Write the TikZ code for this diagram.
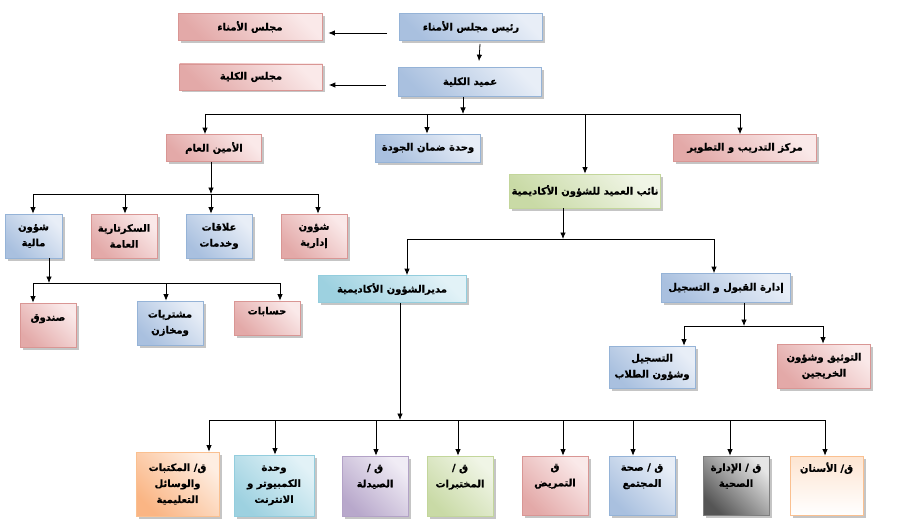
\documentclass[tikz,border=0pt]{standalone}
\usepackage{fontspec}
\usepackage{tikz}
\newfontfamily\arabicfont[Script=Arabic, BoldFeatures={FakeBold=0.8}]{DejaVu Sans}
\TeXXeTstate=1
\usetikzlibrary{shadows}
\usetikzlibrary{arrows.meta}

\definecolor{rojoB}{HTML}{D99694}
\definecolor{rojoO}{HTML}{E3A9A8}
\definecolor{rojoC}{HTML}{FAE9E9}
\definecolor{azulB}{HTML}{95B3D7}
\definecolor{azulO}{HTML}{A9C0DF}
\definecolor{azulC}{HTML}{E8EEF7}
\definecolor{verdeB}{HTML}{C3D69B}
\definecolor{verdeO}{HTML}{C9DAA6}
\definecolor{verdeC}{HTML}{F0F5E6}
\definecolor{cianB}{HTML}{93CDDD}
\definecolor{cianO}{HTML}{9DD1E0}
\definecolor{cianC}{HTML}{E2F2F7}
\definecolor{moradoB}{HTML}{B3A2C7}
\definecolor{moradoO}{HTML}{B8A8CB}
\definecolor{moradoC}{HTML}{F0ECF5}
\definecolor{naranjaB}{HTML}{FAC090}
\definecolor{naranjaO}{HTML}{FAB584}
\definecolor{naranjaC}{HTML}{FEEEE2}
\definecolor{grisB}{HTML}{7F7F7F}
\definecolor{grisO}{HTML}{555555}
\definecolor{grisC}{HTML}{E6E6E6}

\newcommand{\ara}[1]{\beginR #1\endR}

\tikzset{
	caja/.style={draw=#1B, line width=0.7pt, align=center, inner sep=2pt,
		font=\arabicfont\bfseries\fontsize{10}{16}\selectfont,
		left color=#1O, right color=#1C, shading angle=135,
		drop shadow={shadow xshift=2.5pt, shadow yshift=-2.5pt, fill=black!45, opacity=.5}},
	flecha/.style={-{Latex[length=6.5pt,width=5.5pt]}, line width=0.8pt},
	bus/.style={line width=0.8pt}
}

\begin{document}
\begin{tikzpicture}[x=1pt,y=-1pt]
	\useasboundingbox (0,0) rectangle (920,524);

% consejos
	\node[caja=rojo, minimum width=144pt, minimum height=27pt] (patro) at (250,27) {\ara{مجلس الأمناء}};
	\node[caja=azul, minimum width=143pt, minimum height=27pt] (presi) at (471,27) {\ara{رئيس مجلس الأمناء}};
	\node[caja=rojo, minimum width=143pt, minimum height=26pt] (consejo) at (251,77) {\ara{مجلس الكلية}};
	\node[caja=azul, minimum width=143pt, minimum height=29pt] (decano) at (470,82) {\ara{عميد الكلية}};
	\draw[flecha] ([xshift=-12pt,yshift=-6pt]presi.west) -- ([xshift=6pt,yshift=-6pt]patro.east);
	\draw[flecha] ([xshift=-12pt,yshift=-3pt]decano.west) -- ([xshift=6pt,yshift=-8pt]consejo.east);
	\draw[flecha] ([xshift=9pt,yshift=-3pt]presi.south) -- ([xshift=9pt,yshift=6pt]decano.north);

% decanato
	\node[caja=rojo, minimum width=95pt, minimum height=27pt] (amin) at (214,148) {\ara{الأمين العام}};
	\node[caja=azul, minimum width=105pt, minimum height=28pt] (calidad) at (428,148) {\ara{وحدة ضمان الجودة}};
	\node[caja=rojo, minimum width=143pt, minimum height=27pt] (centro) at (745,148) {\ara{مركز التدريب و التطوير}};
	\node[caja=verde, minimum width=147pt, minimum height=34pt] (vice) at (585,191) {\ara{نائب العميد للشؤون الأكاديمية}};
	\coordinate (b1) at (463,114);
	\draw[flecha] (decano.south -| b1) -- (b1);
	\draw[bus] (205,0 |- b1) -- (740,0 |- b1);
	\foreach \n/\x in {amin/205, calidad/427, vice/585, centro/740}
		\draw[flecha] (\x,0 |- b1) -- (\x,0 |- \n.north);

% secretaria general
	\node[caja=azul, minimum width=57pt, minimum height=44pt] (mal) at (33.5,236) {\ara{شؤون}\\\ara{مالية}};
	\node[caja=rojo, minimum width=66pt, minimum height=44pt] (secr) at (124,236) {\ara{السكرتارية}\\\ara{العامة}};
	\node[caja=azul, minimum width=66pt, minimum height=44pt] (rel) at (219,236) {\ara{علاقات}\\\ara{وخدمات}};
	\node[caja=rojo, minimum width=66pt, minimum height=44pt] (adm) at (314,236) {\ara{شؤون}\\\ara{إدارية}};
	\coordinate (b2) at (211,194);
	\draw[flecha] (amin.south -| b2) -- (b2);
	\draw[bus] (33,0 |- b2) -- (318,0 |- b2);
	\foreach \n/\x in {mal/33, secr/125, rel/211, adm/318}
		\draw[flecha] (\x,0 |- b2) -- (\x,0 |- \n.north);

% finanzas
	\node[caja=rojo, minimum width=56pt, minimum height=44pt] (caja) at (48,325) {\ara{صندوق}\\[-6pt]\strut};
	\node[caja=azul, minimum width=66pt, minimum height=44pt] (compras) at (170,323) {\ara{مشتريات}\\\ara{ومخازن}};
	\node[caja=rojo, minimum width=66pt, minimum height=34pt] (cuentas) at (267,318) {\ara{حسابات}\\[-6pt]\strut};
	\coordinate (b3) at (49,283);
	\draw[flecha] (mal.south -| b3) -- (b3);
	\draw[bus] (33,0 |- b3) -- (280,0 |- b3);
	\foreach \n/\x in {caja/33, compras/166, cuentas/280}
		\draw[flecha] (\x,0 |- b3) -- (\x,0 |- \n.north);

% asuntos academicos
	\node[caja=cian, minimum width=148pt, minimum height=27pt] (dir) at (392,289) {\ara{مديرالشؤون الأكاديمية}};
	\node[caja=azul, minimum width=129pt, minimum height=29pt] (admis) at (726,288) {\ara{إدارة القبول و التسجيل}};
	\coordinate (b4) at (563,239);
	\draw[flecha] (vice.south -| b4) -- (b4);
	\draw[bus] (407,0 |- b4) -- (714,0 |- b4);
	\foreach \n/\x in {dir/407, admis/714}
		\draw[flecha] (\x,0 |- b4) -- (\x,0 |- \n.north);

% admision
	\node[caja=azul, minimum width=86pt, minimum height=42pt] (reg) at (652,367) {\ara{التسجيل}\\\ara{وشؤون الطلاب}};
	\node[caja=rojo, minimum width=93pt, minimum height=44pt] (grad) at (824,366) {\ara{التوثيق وشؤون}\\\ara{الخريجين}};
	\coordinate (b5) at (744,326);
	\draw[flecha] (admis.south -| b5) -- (b5);
	\draw[bus] (684,0 |- b5) -- (823,0 |- b5);
	\foreach \n/\x in {reg/684, grad/823}
		\draw[flecha] (\x,0 |- b5) -- (\x,0 |- \n.north);

% departamentos
	\node[caja=naranja, minimum width=83pt, minimum height=64pt] (d1) at (177.5,484) {\ara{ق/ المكتبات}\\\ara{والوسائل}\\\ara{التعليمية}};
	\node[caja=cian, minimum width=80pt, minimum height=61pt] (d2) at (274,485.5) {\ara{وحدة}\\\ara{الكمبيوتر و}\\\ara{الانترنت}};
	\node[caja=morado, minimum width=66pt, minimum height=60pt] (d3) at (375,486) {\ara{ق /}\\\ara{الصيدلة}\\\strut};
	\node[caja=verde, minimum width=66pt, minimum height=60pt] (d4) at (460,486) {\ara{ق /}\\\ara{المختبرات}\\\strut};
	\node[caja=rojo, minimum width=66pt, minimum height=59pt] (d5) at (555,485.5) {\ara{ق}\\\ara{التمريض}\\\strut};
	\node[caja=azul, minimum width=66pt, minimum height=59pt] (d6) at (642,485.5) {\ara{ق / صحة}\\\ara{المجتمع}\\\strut};
	\node[caja=gris, minimum width=66pt, minimum height=59pt] (d7) at (736,485.5) {\ara{ق / الإدارة}\\\ara{الصحية}\\\strut};
	\node[caja=naranja, top color=naranjaC!80!naranjaB, bottom color=white, minimum width=73pt, minimum height=59pt] (d8) at (826.5,485.5) {\ara{ق/ الأسنان}\\\strut\\\strut};
	\coordinate (b6) at (400,420);
	\draw[flecha] (dir.south -| b6) -- (b6);
	\draw[bus] (209,0 |- b6) -- (825,0 |- b6);
	\foreach \n/\x in {d1/209, d2/275, d3/376, d4/458, d5/563, d6/633, d7/730, d8/825}
		\draw[flecha] (\x,0 |- b6) -- (\x,0 |- \n.north);
\end{tikzpicture}
\end{document}
